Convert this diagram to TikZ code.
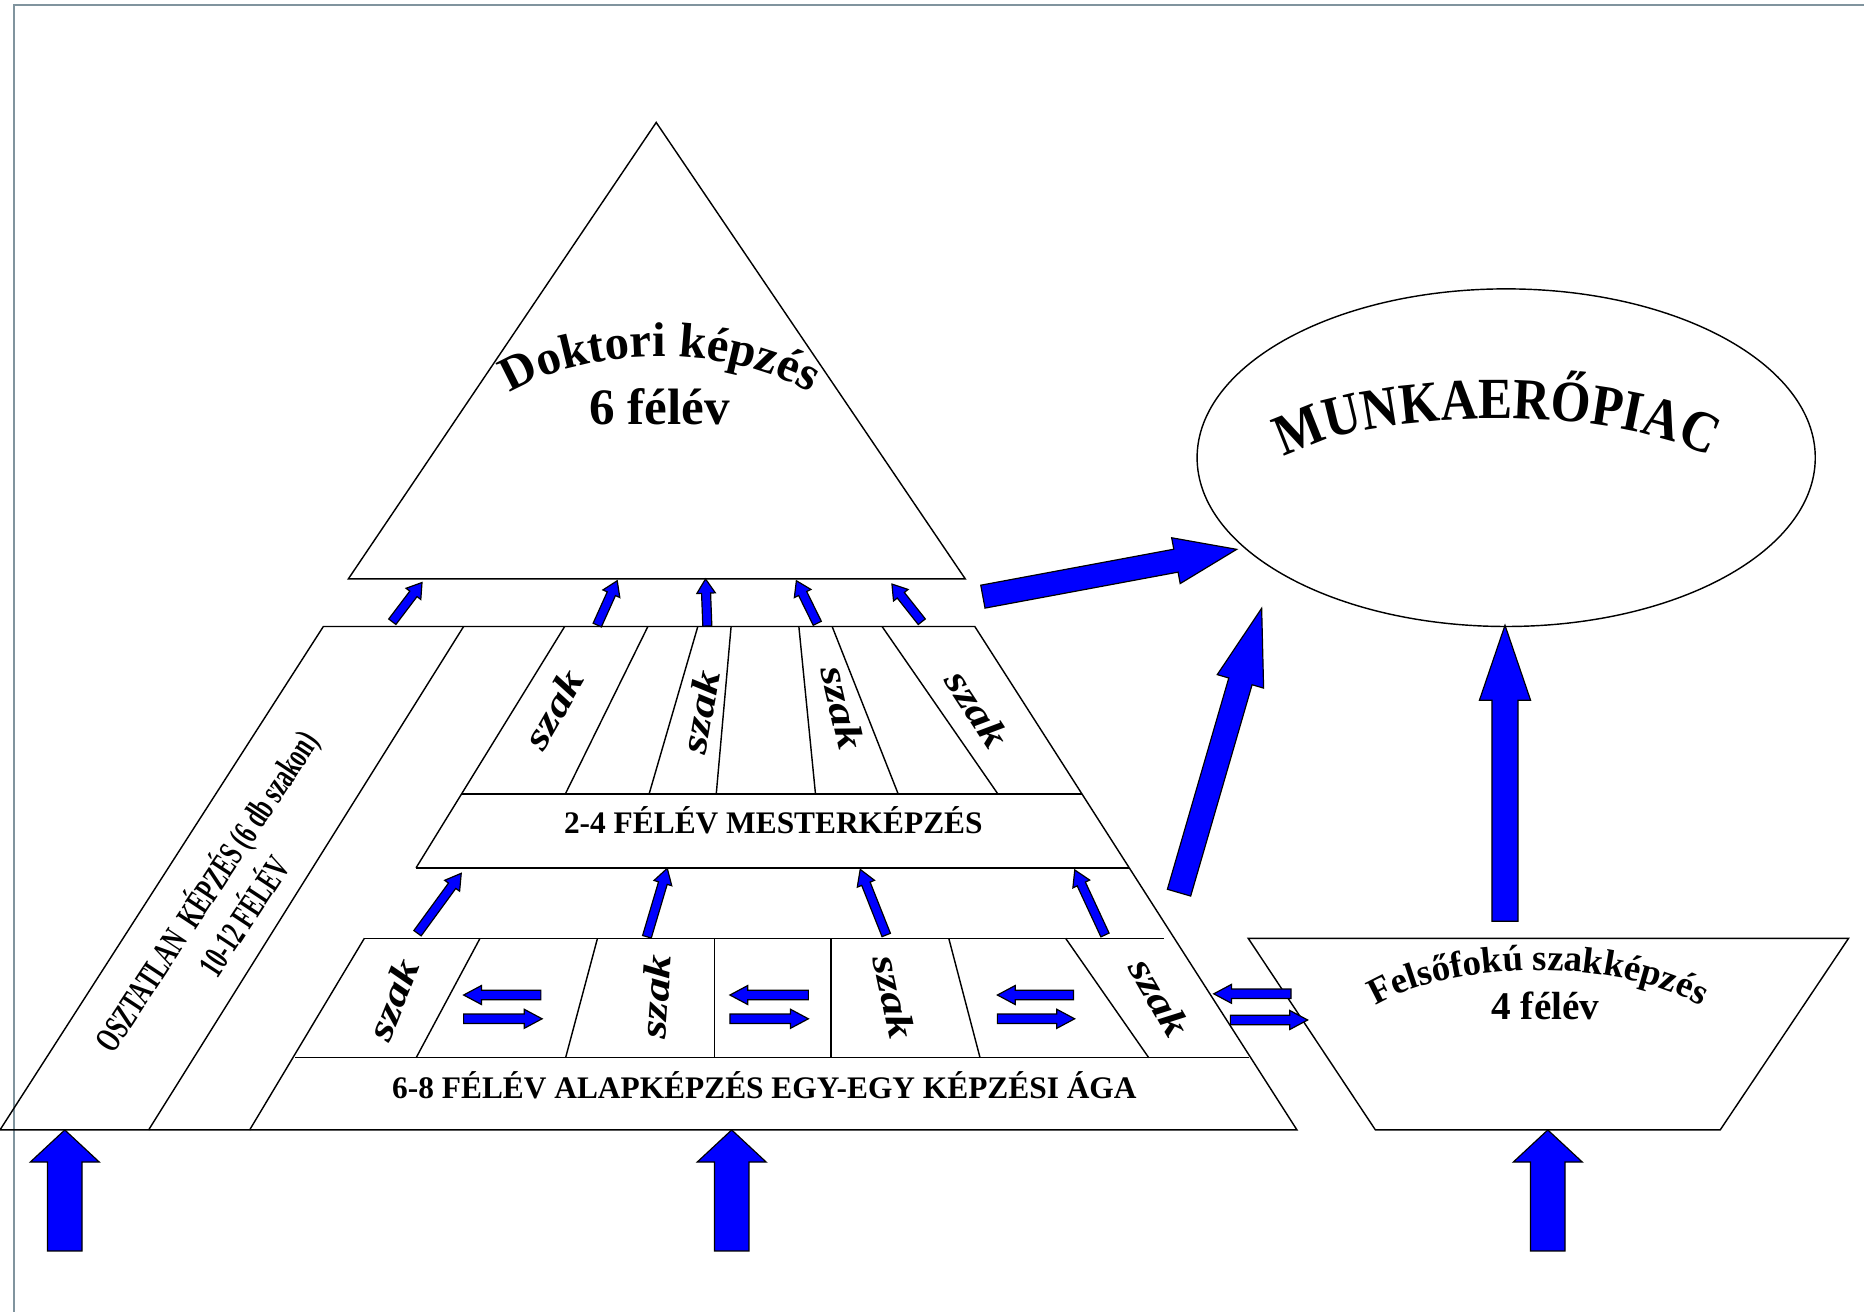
\documentclass[tikz,border=0pt]{standalone}
\usepackage{fontspec}
\setmainfont{Liberation Serif}
\newfontfamily\condserif[FakeStretch=0.64]{Liberation Serif}
\newfontfamily\narrowserif[FakeStretch=0.88]{Liberation Serif}
\usepackage{graphicx}
\usetikzlibrary{calc,decorations.text,shapes.geometric}
\definecolor{arrblue}{RGB}{0,0,255}
\definecolor{framecol}{RGB}{128,148,158}
\newcommand{\fsz}[1]{\fontsize{#1}{#1}\selectfont}
% block arrow: tail, tip, half shaft, half head, head length
\newcommand{\blockarr}[5]{%
  \coordinate (ba-h) at ($(#2)!#5!(#1)$);
  \filldraw[barrow] ($(#1)!#3!90:(#2)$) -- ($(ba-h)!#3!-90:(#1)$) -- ($(ba-h)!#4!-90:(#1)$) -- (#2)
    -- ($(ba-h)!#4!90:(#1)$) -- ($(ba-h)!#3!90:(#1)$) -- ($(#1)!#3!-90:(#2)$) -- cycle;}
\begin{document}
\begin{tikzpicture}[x=0.5pt,y=-0.5pt,
  outline/.style={draw=black, line width=0.6pt, line join=miter},
  barrow/.style={fill=arrblue, draw=black, line width=0.5pt, line join=miter},
  szak/.style={font=\bfseries\itshape\fsz{16pt}, inner sep=0pt},
  lab/.style={font=\bfseries\fsz{13.2pt}, inner sep=0pt},
  osz/.style={font=\condserif\bfseries\fontsize{15pt}{19pt}\selectfont, inner sep=0pt, align=center}]
\useasboundingbox[fill=white] (0,0) rectangle (1568,1103.6);
% frame
\draw[framecol, line width=0.8pt] (12,1104) -- (12,4) -- (1568,4);

% Doktori triangle
\draw[outline] (552,103) -- (812,487) -- (293,487) -- cycle;
\coordinate (dokc) at (555,380);
\path[decorate, decoration={text along path, text align=center,
  text={|\bfseries\fsz{20.5pt}|Doktori képzés}}]
  ($(dokc)+(172:80pt and 40pt)$) arc[start angle=172, end angle=8, x radius=80pt, y radius=40pt];
\node[font=\bfseries\fsz{21.5pt}, inner sep=0pt, anchor=base] (dok2) at (555,357.5) {6 félév};

% Munkaeropiac
\node[ellipse, draw, line width=0.6pt, minimum width=260pt, minimum height=142pt, inner sep=0pt] (market) at (1267,385) {};
\coordinate (mkc) at (1259,412);
\path[decorate, decoration={text along path, text align=center,
  text={|\narrowserif\bfseries\fsz{24.5pt}|MUNKAERŐPIAC}}]
  ($(mkc)+(175:100pt and 30pt)$) arc[start angle=175, end angle=5, x radius=100pt, y radius=30pt];

% pyramid outline
\draw[outline] (272,527) -- (820,527) -- (1091,950.5) -- (0,950.5) -- cycle;
\draw[outline] (390,527) -- (125,950.5);
% alap
\draw[outline] (306.5,789.3) -- (210,950.5);
\draw[outline] (306.5,789.3) -- (979.5,789.3);
\draw[outline] (248,889.7) -- (1051,889.7);
\draw[outline] (403.8,789.3) -- (350.1,889.7);
\draw[outline] (502.6,789.3) -- (475.8,889.7);
\draw[outline] (600.9,789.3) -- (600.9,889.7);
\draw[outline] (699.2,789.3) -- (699.2,889.7);
\draw[outline] (798.1,789.3) -- (824.4,889.7);
\draw[outline] (896.4,789.3) -- (966.3,889.7);
% mester
\draw[outline] (475,527) -- (350,730);
\draw[outline] (389,668) -- (910,668);
\draw[outline] (350,730) -- (950,730);
\draw[outline] (545,527) -- (475.5,668);
\draw[outline] (587,527) -- (546,668);
\draw[outline] (615,527) -- (602.5,668);
\draw[outline] (672,527) -- (686,668);
\draw[outline] (700,527) -- (755.6,668);
\draw[outline] (742,527) -- (839.5,668);

% Felsofoku trapezoid
\draw[outline] (1050,789.3) -- (1555,789.3) -- (1447,950.5) -- (1157,950.5) -- cycle;
\coordinate (fsc) at (1294,891);
\path[decorate, decoration={text along path, text align=center,
  text={|\bfseries\fsz{15.5pt}|Felsőfokú szakképzés}}]
  ($(fsc)+(175:85pt and 37.5pt)$) arc[start angle=175, end angle=5, x radius=85pt, y radius=37.5pt];
\node[font=\bfseries\fsz{16.5pt}, inner sep=0pt, anchor=base] (fs2) at (1300,858) {4 félév};

% labels
\node[lab, anchor=base] (mester) at (650.5,701) {2-4 FÉLÉV MESTERKÉPZÉS};
\node[lab, anchor=base] (alap) at (643,924) {6-8 FÉLÉV ALAPKÉPZÉS EGY-EGY KÉPZÉSI ÁGA};
\node[osz, rotate=56.6] (osz) at (187.5,759) {OSZTATLAN\ \ KÉPZÉS (6 db szakon)\\10-12 FÉLÉV};

% szak labels
\node[szak, rotate=60] (ms1) at (465.5,596.5) {\scalebox{1.25}[1]{szak}};
\node[szak, rotate=80] (ms2) at (589,599) {\scalebox{1.25}[1]{szak}};
\node[szak, rotate=-77] (ms3) at (709,595) {\scalebox{1.25}[1]{szak}};
\node[szak, rotate=-57] (ms4) at (822,596.5) {\scalebox{1.25}[1]{szak}};
\node[szak, rotate=68] (as1) at (330.5,841) {\scalebox{1.25}[1]{szak}};
\node[szak, rotate=86] (as2) at (551.5,838.4) {\scalebox{1.25}[1]{szak}};
\node[szak, rotate=-78] (as3) at (752,838.4) {\scalebox{1.25}[1]{szak}};
\node[szak, rotate=-60] (as4) at (975.5,839) {\scalebox{1.25}[1]{szak}};

% small arrows mester -> doktori
\coordinate (u1a) at (330,523);   \coordinate (u1b) at (355,490);
\coordinate (u2a) at (502.4,525.8); \coordinate (u2b) at (519.2,488.5);
\coordinate (u3a) at (595,526.6); \coordinate (u3b) at (593.5,487);
\coordinate (u4a) at (687.5,524.3); \coordinate (u4b) at (669.9,488.5);
\coordinate (u5a) at (775.4,523); \coordinate (u5b) at (750.3,491.3);
\foreach \i in {1,...,5} {\blockarr{u\i a}{u\i b}{1.9pt}{3.9pt}{6pt}}
% small arrows alap -> mester
\coordinate (m1a) at (351.2,785); \coordinate (m1b) at (388,734.6);
\coordinate (m2a) at (544.2,788); \coordinate (m2b) at (561.3,730.4);
\coordinate (m3a) at (745.5,786.5); \coordinate (m3b) at (723.6,731.3);
\coordinate (m4a) at (929.5,786.5); \coordinate (m4b) at (904.1,731.8);
\foreach \i in {1,...,4} {\blockarr{m\i a}{m\i b}{1.9pt}{3.9pt}{6.5pt}}
% horizontal pairs
\coordinate (h1a) at (455,837); \coordinate (h1b) at (390,837);
\coordinate (h2a) at (390,857); \coordinate (h2b) at (456,857);
\coordinate (h3a) at (680,837); \coordinate (h3b) at (614,837);
\coordinate (h4a) at (614,857); \coordinate (h4b) at (680,857);
\coordinate (h5a) at (903,837); \coordinate (h5b) at (839,837);
\coordinate (h6a) at (839,857); \coordinate (h6b) at (904,857);
\coordinate (h7a) at (1086,836); \coordinate (h7b) at (1021,836);
\coordinate (h8a) at (1035,858); \coordinate (h8b) at (1100,858);
\foreach \i in {1,...,8} {\blockarr{h\i a}{h\i b}{2pt}{4pt}{7.5pt}}

% big arrows
\coordinate (b1a) at (826.8,501.9); \coordinate (b1b) at (1040.3,462.1);
\blockarr{b1a}{b1b}{4.9pt}{9.8pt}{26pt}
\coordinate (b2a) at (991.8,750.9); \coordinate (b2b) at (1061.3,511.7);
\blockarr{b2a}{b2b}{5.1pt}{10.15pt}{32pt}
\coordinate (b3a) at (1266,775); \coordinate (b3b) at (1266,526);
\blockarr{b3a}{b3b}{5.5pt}{10.75pt}{31.5pt}
% bottom input arrows
\coordinate (in1a) at (54.5,1052.3); \coordinate (in1b) at (54.5,950.5);
\coordinate (in2a) at (615.5,1052.3); \coordinate (in2b) at (615.5,950.5);
\coordinate (in3a) at (1302,1052.3); \coordinate (in3b) at (1302,950.5);
\foreach \i in {1,2,3} {\blockarr{in\i a}{in\i b}{7.25pt}{14.5pt}{13.5pt}}
\end{tikzpicture}
\end{document}
